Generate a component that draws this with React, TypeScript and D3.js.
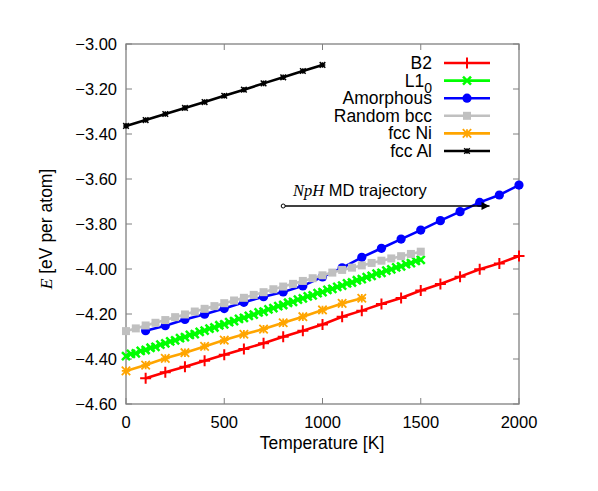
import React from "react";
import * as d3 from "d3";

const xTicks = [0, 500, 1000, 1500, 2000];
const yTicks = [-3.0, -3.2, -3.4, -3.6, -3.8, -4.0, -4.2, -4.4, -4.6];

const tB2 = [100, 200, 300, 400, 500, 600, 700, 800, 900, 1000, 1100, 1200, 1300, 1400, 1500, 1600, 1700, 1800, 1900, 2000];
const eB2 = [-4.486, -4.459, -4.434, -4.408, -4.381, -4.356, -4.33, -4.301, -4.274, -4.247, -4.212, -4.185, -4.156, -4.129, -4.096, -4.067, -4.034, -4.001, -3.975, -3.942];

const tL10 = [0, 25, 50, 75, 100, 125, 150, 175, 200, 225, 250, 275, 300, 325, 350, 375, 400, 425, 450, 475, 500, 525, 550, 575, 600, 625, 650, 675, 700, 725, 750, 775, 800, 825, 850, 875, 900, 925, 950, 975, 1000, 1025, 1050, 1075, 1100, 1125, 1150, 1175, 1200, 1225, 1250, 1275, 1300, 1325, 1350, 1375, 1400, 1425, 1450, 1475, 1500];
const eL10 = [-4.387, -4.377, -4.375, -4.364, -4.36, -4.35, -4.346, -4.336, -4.331, -4.322, -4.317, -4.307, -4.303, -4.293, -4.289, -4.279, -4.274, -4.265, -4.26, -4.25, -4.246, -4.236, -4.232, -4.222, -4.217, -4.208, -4.203, -4.193, -4.189, -4.179, -4.174, -4.165, -4.16, -4.15, -4.146, -4.136, -4.131, -4.122, -4.117, -4.107, -4.103, -4.093, -4.088, -4.079, -4.074, -4.064, -4.06, -4.05, -4.045, -4.036, -4.031, -4.021, -4.017, -4.007, -4.002, -3.993, -3.988, -3.978, -3.974, -3.964, -3.959];

const tAmo = [100, 200, 300, 400, 500, 600, 700, 800, 900, 1000, 1100, 1200, 1300, 1400, 1500, 1600, 1700, 1800, 1900, 2000];
const eAmo = [-4.274, -4.252, -4.224, -4.201, -4.176, -4.148, -4.123, -4.102, -4.075, -4.035, -3.995, -3.948, -3.908, -3.867, -3.827, -3.785, -3.745, -3.704, -3.671, -3.627];

const tBcc = [0, 50, 100, 150, 200, 250, 300, 350, 400, 450, 500, 550, 600, 650, 700, 750, 800, 850, 900, 950, 1000, 1050, 1100, 1150, 1200, 1250, 1300, 1350, 1400, 1450, 1500];
const eBcc = [-4.276, -4.264, -4.251, -4.239, -4.227, -4.214, -4.202, -4.189, -4.177, -4.165, -4.152, -4.14, -4.128, -4.115, -4.103, -4.09, -4.078, -4.066, -4.053, -4.041, -4.028, -4.016, -4.004, -3.994, -3.984, -3.973, -3.963, -3.953, -3.943, -3.933, -3.923];

const tNi = [0, 100, 200, 300, 400, 500, 600, 700, 800, 900, 1000, 1100, 1200];
const eNi = [-4.453, -4.427, -4.397, -4.372, -4.344, -4.316, -4.29, -4.267, -4.239, -4.212, -4.182, -4.153, -4.13];

const tAl = [0, 100, 200, 300, 400, 500, 600, 700, 800, 900, 1000];
const eAl = [-3.364, -3.338, -3.311, -3.284, -3.258, -3.23, -3.203, -3.175, -3.148, -3.12, -3.093];

const arrowT = [800, 1850];
const arrowE = -3.72;

type Marker = "plus" | "cross" | "circle" | "square" | "star" | "smallstar";

const seriesList: { name: string; sub?: string; color: string; t: number[]; e: number[]; marker: Marker }[] = [
  { name: "B2", color: "#ff0000", t: tB2, e: eB2, marker: "plus" },
  { name: "L1", sub: "0", color: "#00ff00", t: tL10, e: eL10, marker: "cross" },
  { name: "Amorphous", color: "#0000ff", t: tAmo, e: eAmo, marker: "circle" },
  { name: "Random bcc", color: "#c0c0c0", t: tBcc, e: eBcc, marker: "square" },
  { name: "fcc Ni", color: "#ffa500", t: tNi, e: eNi, marker: "star" },
  { name: "fcc Al", color: "#000000", t: tAl, e: eAl, marker: "smallstar" },
];

function MarkerShape({ m, x, y, c }: { m: Marker; x: number; y: number; c: string }) {
  if (m === "plus") {
    const s = 5.5;
    return <path d={`M${x - s},${y}H${x + s}M${x},${y - s}V${y + s}`} stroke={c} strokeWidth={2} />;
  }
  if (m === "cross") {
    const s = 4;
    return <path d={`M${x - s},${y - s}L${x + s},${y + s}M${x - s},${y + s}L${x + s},${y - s}`} stroke={c} strokeWidth={2.5} />;
  }
  if (m === "circle") return <circle cx={x} cy={y} r={4.6} fill={c} />;
  if (m === "square") return <rect x={x - 4} y={y - 4} width={8} height={8} fill={c} />;
  if (m === "star") {
    const s = 4.2;
    return (
      <path
        d={`M${x - s},${y - s}L${x + s},${y + s}M${x - s},${y + s}L${x + s},${y - s}M${x - s},${y}H${x + s}M${x},${y - s}V${y + s}`}
        stroke={c}
        strokeWidth={1.8}
      />
    );
  }
  const s = 2.8;
  return (
    <path
      d={`M${x - s},${y - s}L${x + s},${y + s}M${x - s},${y + s}L${x + s},${y - s}M${x - s},${y}H${x + s}M${x},${y - s}V${y + s}`}
      stroke={c}
      strokeWidth={1.5}
    />
  );
}

export default function App() {
  const W = 598;
  const H = 491;
  const x = d3.scaleLinear().domain([0, 2000]).range([126, 519]);
  const y = d3.scaleLinear().domain([-4.6, -3.0]).range([404, 44]);
  const [x0, x1] = x.range();
  const [y0, y1] = y.range();
  const line = d3
    .line<[number, number]>()
    .x((d) => x(d[0]))
    .y((d) => y(d[1]));
  const font = "'Liberation Sans', Arial, Helvetica, sans-serif";
  const axisColor = "#808080";
  const tl = 6;
  const legX = 432;
  const legY0 = 63;
  const legDy = 17.6;

  return (
    <svg width={W} height={H} style={{ position: "absolute", left: 0, top: 0, background: "#fff" }} fontFamily={font}>
      <defs>
        <marker id="ah" viewBox="0 0 10 10" refX="10" refY="5" markerWidth="12" markerHeight="8" markerUnits="userSpaceOnUse" orient="auto">
          <path d="M0,0L10,5L0,10z" fill="#000" />
        </marker>
      </defs>
      {/* frame */}
      <rect x={x0} y={y1} width={x1 - x0} height={y0 - y1} fill="none" stroke={axisColor} strokeWidth={1.3} />
      {xTicks.map((t) => (
        <g key={"xt" + t}>
          <line x1={x(t)} x2={x(t)} y1={y0} y2={y0 - tl} stroke={axisColor} strokeWidth={1} />
          <line x1={x(t)} x2={x(t)} y1={y1} y2={y1 + tl} stroke={axisColor} strokeWidth={1} />
          <text x={x(t)} y={428} textAnchor="middle" fontSize={16.5} fill="#000">
            {t}
          </text>
        </g>
      ))}
      {yTicks.map((v) => (
        <g key={"yt" + v}>
          <line x1={x0} x2={x0 + tl} y1={y(v)} y2={y(v)} stroke={axisColor} strokeWidth={1} />
          <line x1={x1} x2={x1 - tl} y1={y(v)} y2={y(v)} stroke={axisColor} strokeWidth={1} />
          <text x={117} y={y(v) + 6} textAnchor="end" fontSize={16.5} fill="#000">
            {"\u2212" + Math.abs(v).toFixed(2)}
          </text>
        </g>
      ))}
      {/* series */}
      {seriesList.map((s) => {
        const pts = s.t.map((t, i) => [t, s.e[i]] as [number, number]);
        return (
          <g key={s.name}>
            <path d={line(pts) || ""} fill="none" stroke={s.color} strokeWidth={2.6} />
            {pts.map((p, i) => (
              <MarkerShape key={i} m={s.marker} x={x(p[0])} y={y(p[1])} c={s.color} />
            ))}
          </g>
        );
      })}
      {/* arrow */}
      <line x1={x(arrowT[0])} x2={x(arrowT[1])} y1={y(arrowE)} y2={y(arrowE)} stroke="#000" strokeWidth={1.6} markerEnd="url(#ah)" />
      <circle cx={x(arrowT[0])} cy={y(arrowE)} r={2} fill="#fff" stroke="#000" strokeWidth={1} />
      <text x={293} y={196} fontSize={16.5} fill="#000">
        <tspan fontFamily="'Liberation Serif', 'Times New Roman', serif" fontStyle="italic">NpH</tspan>
        <tspan> MD trajectory</tspan>
      </text>
      {/* legend */}
      {seriesList.map((s, i) => {
        const ly = legY0 + i * legDy;
        return (
          <g key={"leg" + s.name}>
            <text x={legX} y={ly + 6} textAnchor="end" fontSize={17.5} fill="#000">
              {s.sub ? (
                <>
                  <tspan>{s.name}</tspan>
                  <tspan fontSize={14} dy={6}>{s.sub}</tspan>
                </>
              ) : (
                s.name
              )}
            </text>
            <line x1={444} x2={490} y1={ly} y2={ly} stroke={s.color} strokeWidth={2.6} />
            <MarkerShape m={s.marker} x={467} y={ly} c={s.color} />
          </g>
        );
      })}
      {/* axis labels */}
      <text x={322} y={449} textAnchor="middle" fontSize={17.5} fill="#000">
        Temperature [K]
      </text>
      <text transform={`translate(52,229) rotate(-90)`} textAnchor="middle" fontSize={17.5} fill="#000">
        <tspan fontFamily="'Liberation Serif', 'Times New Roman', serif" fontStyle="italic">E</tspan>
        <tspan> [eV per atom]</tspan>
      </text>
    </svg>
  );
}
